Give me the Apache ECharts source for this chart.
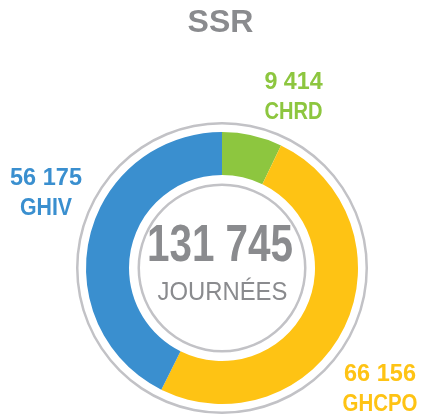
<!DOCTYPE html>
<html lang="fr">
<head>
	<meta charset="UTF-8">
	<title>SSR</title>
	<script src="https://cdn.jsdelivr.net/npm/echarts@6/dist/echarts.min.js"></script>
	<style>
		html, body { margin: 0; padding: 0; background: #fff; }
	</style>
</head>
<body>
	<div id="main" style="width: 421px;height:417px;"></div>
	<script type="text/javascript">
		// données
		var categories = ['CHRD', 'GHCPO', 'GHIV'];
		var values = [9414, 66156, 56175];
		var colors = ['#8dc63f', '#fec314', '#3a8fcf'];
		var title = 'SSR';
		var unit = 'JOURNÉES';

		// mise en page des étiquettes : [x, y de la 1re ligne, échelle valeur, échelle nom]
		var labelPos = [[293.5, 82, 0.95, 0.82], [380, 374, 0.96, 0.835], [46, 178, 0.96, 0.87]];

		var FONT = '"Liberation Sans", Arial, sans-serif';
		var GREY = '#8a8b8e';
		var RING = '#c2c2c6';

		function fmt(v) {
			return String(v).replace(/\B(?=(\d{3})+(?!\d))/g, ' ');
		}

		// texte condensé : on compresse horizontalement
		function txt(s, x, y, size, weight, color, sx) {
			return {
				type: 'text',
				x: x, y: y,
				scaleX: sx,
				silent: true,
				style: {
					text: s,
					x: 0, y: 0,
					fontFamily: FONT,
					fontSize: size,
					fontWeight: weight,
					fill: color,
					textAlign: 'center',
					textVerticalAlign: 'middle',
					align: 'center',
					verticalAlign: 'middle'
				}
			};
		}

		var total = values.reduce(function (a, b) { return a + b; }, 0);
		var cx = 222, cy = 268;

		var myChart = echarts.init(document.getElementById('main'));

		var data = categories.map(function (c, i) {
			return { name: c, value: values[i], itemStyle: { color: colors[i] } };
		});

		var texts = [
			txt(title, 220.5, 23.5, 32, 'bold', GREY, 1.0),
			txt(fmt(total), 220, 246.5, 52, 'bold', GREY, 0.777),
			txt(unit, 222.5, 292.5, 26.5, 'normal', GREY, 0.9)
		];
		categories.forEach(function (c, i) {
			var p = labelPos[i];
			texts.push(txt(fmt(values[i]), p[0], p[1], 24.5, 'bold', colors[i], p[2]));
			texts.push(txt(c, p[0], p[1] + 30.5, 24.5, 'bold', colors[i], p[3]));
		});

		var option = {
			animation: false,
			graphic: { elements: texts },
			series: [
				{
					type: 'pie',
					silent: true,
					center: [cx, cy],
					radius: [143.5, 146],
					label: { show: false },
					itemStyle: { color: RING },
					data: [1]
				},
				{
					type: 'pie',
					silent: true,
					center: [cx, cy],
					radius: [82, 84.5],
					label: { show: false },
					itemStyle: { color: RING },
					data: [1]
				},
				{
					type: 'pie',
					center: [cx, cy],
					radius: [93, 136],
					startAngle: 90,
					clockwise: true,
					label: { show: false },
					labelLine: { show: false },
					data: data
				}
			]
		};
		myChart.setOption(option);
	</script>
</body>
</html>
